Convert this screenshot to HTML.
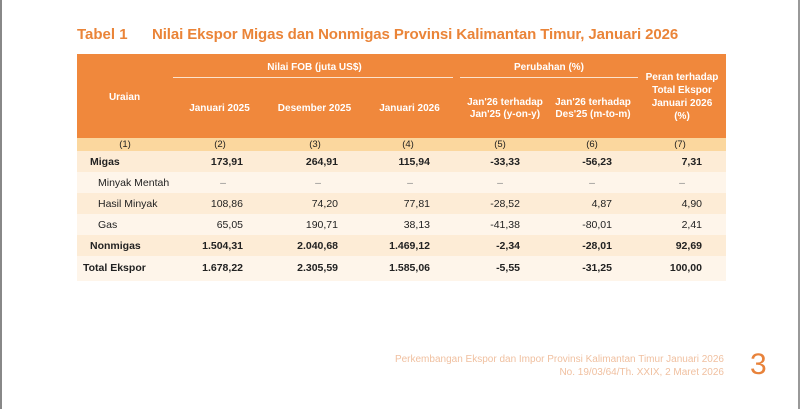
<!DOCTYPE html>
<html><head><meta charset="utf-8"><style>
*{margin:0;padding:0;box-sizing:border-box}
body{width:800px;height:409px;background:#fff;position:relative;font-family:"Liberation Sans",sans-serif;overflow:hidden}
.lb{position:absolute;left:0;top:0;width:2px;height:409px;background:#888}
.rb{position:absolute;right:0;top:0;width:2px;height:409px;background:#999}
.title{position:absolute;top:26px;color:#ea8438;font-weight:bold;font-size:15px;white-space:nowrap}
.hdr{position:absolute;left:77px;top:54px;width:649px;height:84px;background:#f0883c}
.t{position:absolute;color:#fff;font-weight:bold;font-size:10px;text-align:center;line-height:12px}
.ln{position:absolute;height:1px;background:#fde3cc}
.row{position:absolute;left:77px;width:649px}
.c{position:absolute;font-size:10.5px;color:#222;white-space:nowrap}
.b{font-weight:bold}
.ft{position:absolute;color:#f0c0a0;font-size:10px;text-align:right;right:76px;line-height:13px}
</style></head><body>
<div class="lb"></div><div class="rb"></div>
<div class="title" style="left:77px">Tabel 1</div>
<div class="title" style="left:152px;letter-spacing:-0.1px">Nilai Ekspor Migas dan Nonmigas Provinsi Kalimantan Timur, Januari 2026</div>
<div class="hdr"></div>
<div class="t" style="left:77px;width:95px;top:92px">Uraian</div>
<div class="t" style="left:172px;width:285px;top:62px">Nilai FOB (juta US$)</div>
<div class="ln" style="left:173px;top:77px;width:280px"></div>
<div class="ln" style="left:460px;top:77px;width:178px"></div>
<div class="t" style="left:460px;width:178px;top:62px">Perubahan (%)</div>
<div class="t" style="left:172px;width:95px;top:103px">Januari 2025</div>
<div class="t" style="left:267px;width:95px;top:103px">Desember 2025</div>
<div class="t" style="left:362px;width:95px;top:103px">Januari 2026</div>
<div class="t" style="left:460px;width:90px;top:97px">Jan'26 terhadap<br>Jan'25 (y-on-y)</div>
<div class="t" style="left:548px;width:90px;top:97px">Jan'26 terhadap<br>Des'25 (m-to-m)</div>
<div class="t" style="left:638px;width:88px;top:71px;line-height:13px">Peran terhadap<br>Total Ekspor<br>Januari 2026<br>(%)</div>

<div class="row" style="top:138px;height:13px;background:#fbd79e"></div>
<div class="row" style="top:151px;height:21px;background:#fdecd6"></div>
<div class="row" style="top:172px;height:21px;background:#fef5ea"></div>
<div class="row" style="top:193px;height:21px;background:#fdecd6"></div>
<div class="row" style="top:214px;height:21px;background:#fef5ea"></div>
<div class="row" style="top:235px;height:21px;background:#fdecd6"></div>
<div class="row" style="top:256px;height:25px;background:#fef5ea"></div>

<div id="cells"></div>
<script>
var cols=[[77,"left"],[243,"r"],[338,"r"],[430,"r"],[520,"r"],[612,"r"],[702,"r"]];
var nums=["(1)","(2)","(3)","(4)","(5)","(6)","(7)"];
var numsX=[125,220,315,408,500,592,680];
var h="";
nums.forEach(function(n,i){h+='<div class="c" style="top:139px;font-size:9.5px;left:'+(numsX[i]-20)+'px;width:40px;text-align:center">'+n+'</div>';});
var rows=[
["Migas",["173,91","264,91","115,94","-33,33","-56,23","7,31"],156,1,90],
["Minyak Mentah",["–","–","–","–","–","–"],177,0,98],
["Hasil Minyak",["108,86","74,20","77,81","-28,52","4,87","4,90"],198,0,98],
["Gas",["65,05","190,71","38,13","-41,38","-80,01","2,41"],219,0,98],
["Nonmigas",["1.504,31","2.040,68","1.469,12","-2,34","-28,01","92,69"],240,1,90],
["Total Ekspor",["1.678,22","2.305,59","1.585,06","-5,55","-31,25","100,00"],262,1,83]];
rows.forEach(function(r){
 h+='<div class="c'+(r[3]?' b':'')+'" style="top:'+r[2]+'px;left:'+r[4]+'px">'+r[0]+'</div>';
 r[1].forEach(function(v,i){
  var x=cols[i+1][0];
  if(v=="–"){h+='<div class="c" style="top:'+r[2]+'px;left:'+(x-40)+'px;width:40px;text-align:center;color:#888">–</div>';}
  else h+='<div class="c'+(r[3]?' b':'')+'" style="top:'+r[2]+'px;left:'+(x-70)+'px;width:70px;text-align:right">'+v+'</div>';
 });
});
document.getElementById("cells").innerHTML=h;
</script>
<div class="ft" style="top:353px;right:76px">Perkembangan Ekspor dan Impor Provinsi Kalimantan Timur Januari 2026<br>No. 19/03/64/Th. XXIX, 2 Maret 2026</div>
<div style="position:absolute;left:750px;top:348px;font-size:30px;color:#e8823a">3</div>
</body></html>
